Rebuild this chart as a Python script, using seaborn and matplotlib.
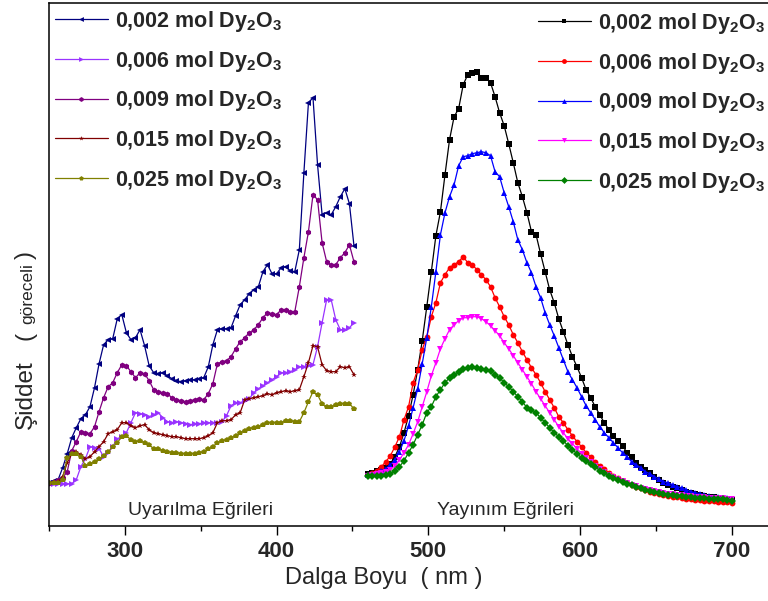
import numpy as np
import pandas as pd
import matplotlib
matplotlib.use("Agg")
import matplotlib.pyplot as plt
import seaborn as sns
from matplotlib.lines import Line2D

# ---- data -----------------------------------------------------------------
# excitation spectra, 250-451 nm in 3 nm steps
exc_nm = np.arange(250, 452, 3)
exc_002 = [43, 45, 46, 58, 72, 88, 98, 107, 111, 119, 138, 162, 181, 186, 187, 207, 211, 193, 186, 188,
           196, 180, 160, 153, 152, 153, 150, 147, 145, 144, 145, 146, 146, 147, 148, 159, 181, 196, 197, 197,
           198, 210, 221, 226, 232, 236, 239, 254, 261, 252, 252, 258, 259, 255, 254, 276, 353, 423, 428, 361,
           311, 313, 311, 319, 329, 337, 322, 280]
exc_006 = [42, 42, 42, 42, 42, 42, 46, 59, 67, 79, 78, 77, 69, 73, 79, 87, 89, 93, 103, 113,
           112, 111, 109, 111, 113, 108, 104, 103, 104, 103, 102, 101, 102, 102, 103, 103, 103, 103, 104, 110,
           120, 123, 123, 125, 127, 133, 137, 140, 143, 146, 149, 153, 153, 154, 156, 159, 159, 160, 161, 179,
           203, 226, 226, 206, 196, 196, 198, 203]
exc_009 = [43, 44, 46, 48, 54, 75, 84, 94, 93, 92, 99, 114, 128, 139, 143, 153, 161, 160, 154, 148,
           153, 152, 145, 136, 134, 133, 132, 128, 126, 125, 124, 125, 126, 127, 126, 132, 142, 162, 164, 165,
           169, 177, 184, 188, 193, 196, 201, 208, 213, 212, 211, 216, 216, 214, 214, 239, 268, 294, 331, 326,
           283, 264, 261, 261, 268, 273, 281, 264]
exc_015 = [43, 44, 44, 49, 63, 72, 74, 71, 67, 69, 74, 79, 84, 92, 94, 96, 103, 103, 100, 98,
           100, 101, 96, 93, 92, 91, 90, 89, 89, 88, 87, 87, 87, 87, 88, 90, 93, 103, 105, 105,
           106, 111, 113, 126, 127, 128, 129, 130, 132, 131, 133, 134, 135, 134, 135, 136, 149, 163, 180, 179,
           161, 155, 154, 154, 159, 158, 159, 151]
exc_025 = [43, 43, 43, 46, 68, 72, 72, 69, 60, 62, 64, 67, 70, 74, 79, 83, 89, 90, 86, 84,
           85, 83, 81, 77, 77, 75, 74, 73, 73, 72, 72, 72, 72, 73, 74, 77, 79, 83, 85, 86,
           88, 90, 93, 95, 97, 98, 99, 101, 103, 103, 103, 103, 105, 105, 104, 104, 113, 124, 134, 131,
           122, 119, 119, 121, 122, 122, 122, 117]

# emission spectra, 460-700 nm in 3 nm steps
emi_nm = np.arange(460, 701, 3)
emi_002 = [52, 53, 55, 56, 58, 62, 69, 79, 93, 110, 131, 156, 185, 219, 254, 290, 314, 351, 386, 409,
           417, 441, 451, 453, 454, 448, 448, 443, 429, 413, 400, 382, 363, 343, 329, 313, 294, 291, 272, 254,
           236, 223, 207, 194, 181, 169, 159, 148, 136, 128, 119, 111, 103, 96, 90, 85, 80, 73, 69, 63,
           59, 56, 53, 49, 46, 43, 41, 39, 38, 36, 34, 33, 32, 31, 30, 29, 29, 28, 27, 27, 26]
emi_006 = [51, 53, 55, 59, 64, 70, 79, 89, 106, 119, 143, 156, 176, 189, 209, 223, 243, 251, 258, 261,
           264, 269, 263, 261, 256, 251, 246, 239, 228, 219, 209, 201, 191, 183, 174, 166, 158, 151, 143, 134,
           126, 118, 109, 103, 96, 90, 84, 79, 73, 69, 64, 60, 57, 53, 50, 48, 45, 43, 41, 39,
           38, 36, 34, 33, 32, 31, 30, 29, 29, 28, 27, 27, 26, 26, 25, 25, 25, 24, 24, 24, 23]
emi_009 = [51, 52, 53, 55, 57, 61, 66, 74, 85, 100, 118, 137, 162, 188, 219, 254, 291, 313, 329, 341,
           360, 369, 370, 372, 373, 374, 373, 370, 354, 349, 333, 319, 304, 286, 276, 263, 253, 239, 228, 213,
           201, 190, 178, 166, 154, 146, 138, 129, 120, 113, 106, 99, 93, 88, 83, 78, 73, 69, 64, 61,
           58, 54, 52, 49, 47, 44, 43, 41, 39, 38, 36, 34, 33, 32, 31, 30, 29, 29, 28, 28, 27]
emi_015 = [50, 51, 52, 53, 54, 56, 60, 66, 73, 81, 92, 104, 119, 134, 150, 163, 177, 187, 196, 201,
           205, 208, 208, 209, 209, 207, 204, 200, 195, 190, 183, 177, 170, 163, 156, 149, 142, 134, 127, 120,
           113, 106, 99, 93, 87, 82, 77, 72, 68, 64, 60, 57, 54, 51, 49, 47, 45, 43, 41, 40,
           38, 37, 36, 35, 34, 33, 32, 32, 31, 31, 30, 30, 29, 29, 29, 28, 28, 28, 28, 27, 27]
emi_025 = [50, 50, 50, 50, 51, 52, 55, 59, 65, 73, 81, 91, 101, 113, 119, 129, 136, 143, 148, 151,
           154, 157, 158, 159, 158, 157, 156, 155, 151, 148, 143, 139, 134, 129, 124, 118, 116, 113, 108, 103,
           98, 93, 89, 85, 80, 76, 72, 68, 65, 62, 59, 55, 53, 50, 48, 46, 44, 42, 41, 39,
           38, 36, 35, 34, 33, 32, 31, 31, 30, 30, 29, 29, 28, 28, 28, 27, 27, 27, 27, 26, 25]

concentrations = ["0,002", "0,006", "0,009", "0,015", "0,025"]
exc_series = [exc_002, exc_006, exc_009, exc_015, exc_025]
emi_series = [emi_002, emi_006, emi_009, emi_015, emi_025]

exc_colors = ["#000080", "#9933ff", "#800080", "#800000", "#808000"]
exc_markers = ["<", ">", "h", "*", "p"]
emi_colors = ["#000000", "#ff0000", "#0000ff", "#ff00ff", "#008000"]
emi_markers = ["s", "o", "^", "v", "D"]

# ---- style ----------------------------------------------------------------
sns.set_theme(style="ticks")
plt.rcParams["font.family"] = ["Liberation Sans", "DejaVu Sans"]
plt.rcParams["mathtext.fontset"] = "custom"
plt.rcParams["mathtext.rm"] = "Liberation Sans"
plt.rcParams["mathtext.bf"] = "Liberation Sans:bold"

W, H = 768, 601
fig = plt.figure(figsize=(W / 100, H / 100), dpi=100)
# axes spans past the right edge of the canvas
ax = fig.add_axes([49 / W, (H - 525.7) / H, (807.6 - 49) / W, (525.7 - 3.3) / H])

def draw(nm, series, colors, markers):
    handles = []
    for vals, c, m, conc in zip(series, colors, markers, concentrations):
        df = pd.DataFrame({"nm": nm, "I": vals})
        sns.lineplot(data=df, x="nm", y="I", color=c, marker=m, markersize=4.2,
                     markeredgewidth=0, linewidth=0.9, ax=ax, legend=False)
        handles.append(Line2D([], [], color=c, marker=m, markersize=3.5,
                              markeredgewidth=0, linewidth=0.9,
                              label=conc + r" mol Dy$_{\mathbf{2}}$O$_{\mathbf{3}}$"))
    return handles

h_exc = draw(exc_nm, exc_series, exc_colors, exc_markers)
h_emi = draw(emi_nm, emi_series, emi_colors, emi_markers)

ax.set_xlim(250, 750)
ax.set_ylim(0, 522.4)
ax.set_xticks([300, 400, 500, 600, 700])
ax.set_xticks([250, 350, 450, 550, 650], minor=True)
ax.set_yticks([])
ax.tick_params(axis="x", which="major", direction="out", length=6.5, width=1.0,
               labelsize=16, pad=4.5, color="black")
ax.tick_params(axis="x", which="minor", direction="out", length=3.6, width=1.0, color="black")
for lab in ax.get_xticklabels():
    lab.set_fontweight("bold")
for s in ["left", "bottom", "top", "right"]:
    ax.spines[s].set_visible(True)
    ax.spines[s].set_linewidth(1.1)
    ax.spines[s].set_color("black")
ax.set_xlabel("")
ax.set_ylabel("")

fig.text(384 / W, 1 - 578 / H, "Dalga Boyu  ( nm )", fontsize=17, ha="center", va="center")

# y label: large 'Şiddet' with a smaller parenthetical, all on one baseline
ylab_kw = dict(rotation=90, rotation_mode="anchor", ha="center", va="baseline")
base_x = 32 / W
fig.text(base_x, 1 - 395 / H, "Şiddet", fontsize=17.5, **ylab_kw)
fig.text(base_x, 1 - 336 / H, "(", fontsize=17.5, **ylab_kw)
fig.text(base_x, 1 - 294 / H, "göreceli", fontsize=12.5, **ylab_kw)
fig.text(base_x, 1 - 255 / H, ")", fontsize=17.5, **ylab_kw)

ax.text(350, 15, "Uyarılma Eğrileri", fontsize=14, ha="center", va="center")
ax.text(550.7, 15, "Yayınım Eğrileri", fontsize=14, ha="center", va="center")

leg_kw = dict(frameon=False, prop={"weight": "bold", "size": 15.5}, handlelength=2.45,
              handletextpad=0.33, labelspacing=0.68, borderpad=0, borderaxespad=0,
              loc="upper left", bbox_transform=fig.transFigure)
leg1 = ax.legend(handles=h_exc, bbox_to_anchor=(55 / W, 1 - 9 / H), **leg_kw)
ax.add_artist(leg1)
ax.legend(handles=h_emi, bbox_to_anchor=(538 / W, 1 - 11 / H), **leg_kw)

fig.savefig("out.png", dpi=100)
